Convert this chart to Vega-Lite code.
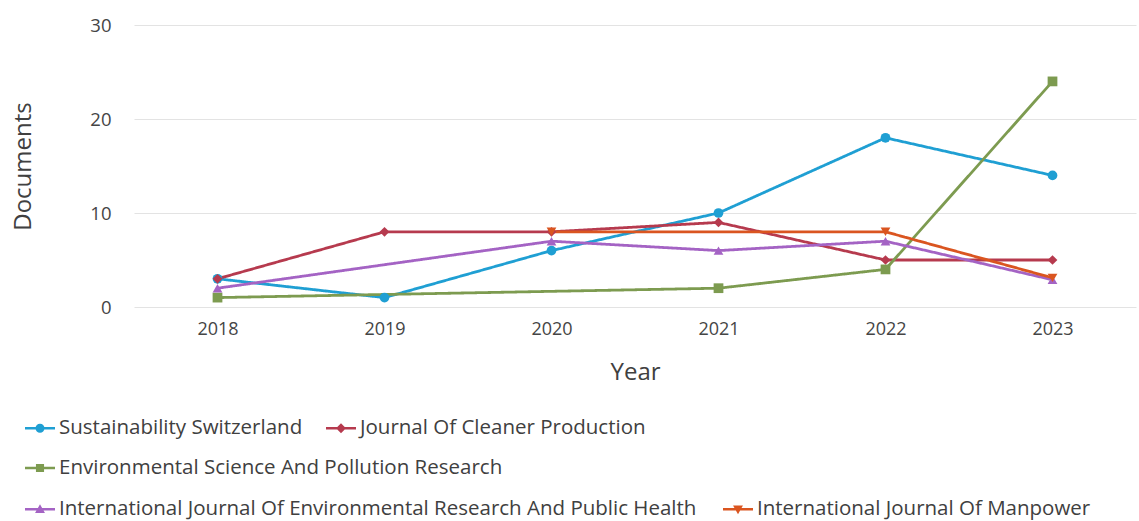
{
  "$schema": "https://vega.github.io/schema/vega-lite/v6.json",
  "autosize": {"type": "none"},
  "padding": {"left": 134, "top": 25, "right": 3, "bottom": 214},
  "width": 1002,
  "height": 282,
  "background": "white",
  "config": {
    "font": "Open Sans",
    "view": {"stroke": null},
    "axis": {"labelFont": "Open Sans", "titleFont": "Open Sans", "labelColor": "#454545", "titleColor": "#404040", "titleFontWeight": "normal"},
    "legend": {"labelFont": "Open Sans", "labelFontSize": 20.5, "labelColor": "#404040", "labelLimit": 900, "symbolSize": 900, "labelOffset": 4, "padding": 0, "title": null, "orient": "none", "direction": "horizontal"}
  },
  "data": {
    "values": [
      {"Year": "2018", "Journal": "Sustainability Switzerland", "Documents": 3},
      {"Year": "2019", "Journal": "Sustainability Switzerland", "Documents": 1},
      {"Year": "2020", "Journal": "Sustainability Switzerland", "Documents": 6},
      {"Year": "2021", "Journal": "Sustainability Switzerland", "Documents": 10},
      {"Year": "2022", "Journal": "Sustainability Switzerland", "Documents": 18},
      {"Year": "2023", "Journal": "Sustainability Switzerland", "Documents": 14},
      {"Year": "2018", "Journal": "Journal Of Cleaner Production", "Documents": 3},
      {"Year": "2019", "Journal": "Journal Of Cleaner Production", "Documents": 8},
      {"Year": "2020", "Journal": "Journal Of Cleaner Production", "Documents": 8},
      {"Year": "2021", "Journal": "Journal Of Cleaner Production", "Documents": 9},
      {"Year": "2022", "Journal": "Journal Of Cleaner Production", "Documents": 5},
      {"Year": "2023", "Journal": "Journal Of Cleaner Production", "Documents": 5},
      {"Year": "2018", "Journal": "Environmental Science And Pollution Research", "Documents": 1},
      {"Year": "2021", "Journal": "Environmental Science And Pollution Research", "Documents": 2},
      {"Year": "2022", "Journal": "Environmental Science And Pollution Research", "Documents": 4},
      {"Year": "2023", "Journal": "Environmental Science And Pollution Research", "Documents": 24},
      {"Year": "2018", "Journal": "International Journal Of Environmental Research And Public Health", "Documents": 2},
      {"Year": "2020", "Journal": "International Journal Of Environmental Research And Public Health", "Documents": 7},
      {"Year": "2021", "Journal": "International Journal Of Environmental Research And Public Health", "Documents": 6},
      {"Year": "2022", "Journal": "International Journal Of Environmental Research And Public Health", "Documents": 7},
      {"Year": "2023", "Journal": "International Journal Of Environmental Research And Public Health", "Documents": 2.9},
      {"Year": "2020", "Journal": "International Journal Of Manpower", "Documents": 8},
      {"Year": "2022", "Journal": "International Journal Of Manpower", "Documents": 8},
      {"Year": "2023", "Journal": "International Journal Of Manpower", "Documents": 3.1}
    ]
  },
  "encoding": {
    "x": {
      "field": "Year", "type": "ordinal",
      "scale": {"domain": ["2018", "2019", "2020", "2021", "2022", "2023"]},
      "axis": {"labelAngle": 0, "domain": false, "ticks": false, "labelFontSize": 18, "labelPadding": 13, "title": "Year", "titleFontSize": 24, "titleY": 72, "titleBaseline": "alphabetic"}
    },
    "y": {
      "field": "Documents", "type": "quantitative",
      "scale": {"domain": [0, 30]},
      "axis": {"values": [0, 10, 20, 30], "domain": false, "ticks": false, "labelFontSize": 18.5, "labelPadding": 23, "gridColor": "#e3e3e3", "gridWidth": 1.2, "title": "Documents", "titleFontSize": 24, "titleX": -111, "titleY": 141, "titleBaseline": "middle", "titleAnchor": "middle"}
    },
    "color": {
      "field": "Journal", "type": "nominal",
      "scale": {
        "domain": ["Sustainability Switzerland", "Journal Of Cleaner Production", "Environmental Science And Pollution Research", "International Journal Of Environmental Research And Public Health", "International Journal Of Manpower"],
        "range": ["#1f9fd3", "#b63a4e", "#7d9b50", "#a463c4", "#da5520"]
      },
      "legend": {
        "values": ["Sustainability Switzerland", "Journal Of Cleaner Production"],
        "legendX": -109,
        "legendY": 388,
        "columnPadding": 23,
        "encode": {
          "symbols": {
            "update": {
              "fill": {"scale": "color", "field": "value"},
              "stroke": {"value": null},
              "strokeWidth": {"value": 0},
              "opacity": {"value": 1},
              "shape": {"signal": "datum.value === 'Sustainability Switzerland' ? 'M-1,-0.08L1,-0.08L1,0.08L-1,0.08Z M-0.3,0A0.3,0.3 0 1,1 0.3,0A0.3,0.3 0 1,1 -0.3,0Z' : 'M-1,-0.08L1,-0.08L1,0.08L-1,0.08Z M0,-0.33L0.33,0L0,0.33L-0.33,0Z'"}
            }
          }
        }
      }
    }
  },
  "layer": [
    {
      "mark": {"type": "line", "strokeWidth": 2.8},
      "encoding": {
        "strokeDash": {
          "field": "Journal", "type": "nominal",
          "scale": {
            "domain": ["International Journal Of Manpower", "International Journal Of Environmental Research And Public Health", "Environmental Science And Pollution Research", "Journal Of Cleaner Production", "Sustainability Switzerland"],
            "range": [[1, 0], [1, 0], [1, 0], [1, 0], [1, 0]]
          },
          "legend": {
            "values": ["International Journal Of Environmental Research And Public Health", "International Journal Of Manpower"],
            "legendX": -109,
            "legendY": 469,
            "columnPadding": 26,
            "encode": {
              "symbols": {
                "update": {
                  "fill": {"scale": "color", "field": "value"},
                  "stroke": {"value": null},
                  "strokeWidth": {"value": 0},
                  "opacity": {"value": 1},
                  "shape": {"signal": "datum.value === 'International Journal Of Environmental Research And Public Health' ? 'M-1,-0.08L1,-0.08L1,0.08L-1,0.08Z M0,-0.33L0.33,0.25L-0.33,0.25Z' : 'M-1,-0.08L1,-0.08L1,0.08L-1,0.08Z M0,0.33L-0.33,-0.25L0.33,-0.25Z'"}
                }
              }
            }
          }
        },
        "opacity": {
          "field": "Journal", "type": "ordinal",
          "scale": {
            "domain": ["Environmental Science And Pollution Research", "International Journal Of Manpower", "Sustainability Switzerland", "Journal Of Cleaner Production", "International Journal Of Environmental Research And Public Health"],
            "range": [1, 1, 1, 1, 1]
          },
          "legend": {
            "values": ["Environmental Science And Pollution Research"],
            "legendX": -109,
            "legendY": 428,
            "encode": {
              "symbols": {
                "update": {
                  "fill": {"scale": "color", "field": "value"},
                  "stroke": {"value": null},
                  "strokeWidth": {"value": 0},
                  "opacity": {"value": 1},
                  "shape": {"signal": "'M-1,-0.08L1,-0.08L1,0.08L-1,0.08Z M-0.27,-0.27L0.27,-0.27L0.27,0.27L-0.27,0.27Z'"}
                }
              }
            }
          }
        }
      }
    },
    {
      "mark": {"type": "point", "filled": true, "opacity": 1, "size": 95},
      "encoding": {
        "shape": {
          "field": "Journal", "type": "nominal",
          "scale": {
            "domain": ["Environmental Science And Pollution Research", "Sustainability Switzerland", "Journal Of Cleaner Production", "International Journal Of Environmental Research And Public Health", "International Journal Of Manpower"],
            "range": ["square", "circle", "diamond", "triangle-up", "triangle-down"]
          },
          "legend": null
        }
      }
    }
  ]
}
